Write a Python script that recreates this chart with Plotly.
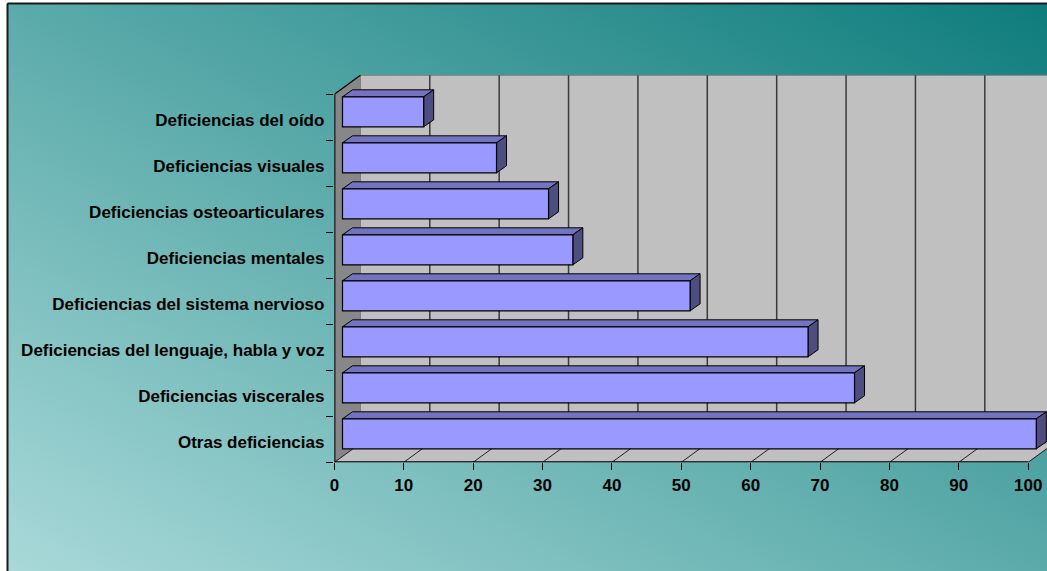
import base64
import plotly.graph_objects as go

# ---- data (bottom to top, as plotted) ----
categories = [
    "Otras deficiencias",
    "Deficiencias viscerales",
    "Deficiencias del lenguaje, habla y voz",
    "Deficiencias del sistema nervioso",
    "Deficiencias mentales",
    "Deficiencias osteoarticulares",
    "Deficiencias visuales",
    "Deficiencias del oído",
]
values = [100, 73.8, 67.1, 50.1, 33.2, 29.7, 22.2, 11.7]
x_ticks = [0, 10, 20, 30, 40, 50, 60, 70, 80, 90, 100]

# ---- geometry (pixels -> axis units) ----
W, H = 1047, 571
X0, Y0 = 334.4, 462.3      # front-plane origin in px
PXU = 6.938                # px per x unit
PYU = 46.0                 # px per category
TOP_PX = 60

xr = [0, (W - X0) / PXU]
yr = [-0.5, -0.5 + (Y0 - TOP_PX) / PYU]

DX, DY = 26 / PXU, 19 / PYU        # full 3D depth
SX, SY = 8.1 / PXU, 5.5 / PYU      # depth shift of bar front face
BDX, BDY = 10 / PXU, 7 / PYU       # bar depth
BW = 30 / PYU                      # bar thickness

n = len(categories)
top, bot = n - 0.5, -0.5
xmax = x_ticks[-1]

FRONT = "#9999FF"
TOPC = "#7373BF"
SIDE = "#4D4D80"


def poly(pts, fill, line_color=None, lw=1.0):
    path = "M " + " L ".join(f"{x:.5f},{y:.5f}" for x, y in pts) + " Z"
    line = dict(color=line_color, width=lw) if line_color else dict(width=0)
    return dict(type="path", path=path, xref="x", yref="y",
                fillcolor=fill, line=line, layer="below")


def seg(x0, y0, x1, y1, color, lw):
    return dict(type="line", x0=x0, y0=y0, x1=x1, y1=y1, xref="x", yref="y",
                line=dict(color=color, width=lw), layer="below")


shapes = []
# walls and floor
shapes.append(poly([(DX, bot + DY), (xmax + DX, bot + DY), (xmax + DX, top + DY), (DX, top + DY)],
                   "#C0C0C0", "#808080", 1))
shapes.append(poly([(0, bot), (DX, bot + DY), (DX, top + DY), (0, top)], "#878787", "#808080", 1))
shapes.append(poly([(0, bot), (xmax, bot), (xmax + DX, bot + DY), (DX, bot + DY)],
                   "#C0C0C0", "#808080", 1))
# gridlines on back wall
for v in x_ticks[1:]:
    shapes.append(seg(v + DX, bot + DY, v + DX, top + DY, "#3A3A3A", 1.5))
# gridlines on floor
for v in x_ticks:
    shapes.append(seg(v, bot, v + DX, bot + DY, "#222222", 1))
# front edges (axis lines)
shapes.append(seg(0, bot, 0, top, "black", 2))
shapes.append(seg(0, top, DX, top + DY, "black", 1.2))
shapes.append(seg(0, bot, xmax, bot, "black", 2))

# 3D faces of the bars
for k, v in enumerate(values):
    yc = k + SY
    yt, yb = yc + BW / 2, yc - BW / 2
    x0, x1 = SX, SX + v
    shapes.append(poly([(x0, yt), (x1, yt), (x1 + BDX, yt + BDY), (x0 + BDX, yt + BDY)],
                       TOPC, "black", 1))
    shapes.append(poly([(x1, yb), (x1, yt), (x1 + BDX, yt + BDY), (x1 + BDX, yb + BDY)],
                       SIDE, "black", 1))

# outer frame of the chart area
shapes.append(dict(type="line", xref="paper", yref="paper", x0=7.5 / W, x1=7.5 / W,
                   y0=0, y1=1 - 3.5 / H, line=dict(color="#1A1A1A", width=2), layer="above"))
shapes.append(dict(type="line", xref="paper", yref="paper", x0=7.5 / W, x1=1,
                   y0=1 - 3.5 / H, y1=1 - 3.5 / H, line=dict(color="#1A1A1A", width=2), layer="above"))

# gradient background as an SVG image
svg = ('<svg xmlns="http://www.w3.org/2000/svg" width="1040" height="568" viewBox="0 0 1040 568" '
       'preserveAspectRatio="none"><defs><linearGradient id="g" x1="1" y1="0" x2="0" y2="1">'
       '<stop offset="0" stop-color="#0E7C7C"/><stop offset="1" stop-color="#A9D9D9"/>'
       '</linearGradient></defs><rect width="1040" height="568" fill="url(#g)"/></svg>')
src = "data:image/svg+xml;base64," + base64.b64encode(svg.encode()).decode()

tickfont = dict(family="Liberation Sans, Arial, sans-serif", size=17, color="black", weight="bold")

fig = go.Figure()
fig.add_trace(go.Bar(
    x=values, y=categories, orientation="h",
    base=SX, width=BW, offset=SY - BW / 2,
    marker=dict(color=FRONT, line=dict(color="black", width=1.2)),
    showlegend=False,
))

fig.update_layout(
    template="none",
    width=W, height=H,
    margin=dict(l=0, r=0, t=0, b=0),
    paper_bgcolor="white",
    plot_bgcolor="rgba(0,0,0,0)",
    showlegend=False,
    shapes=shapes,
    images=[dict(source=src, xref="paper", yref="paper", x=7 / W, y=1 - 3 / H,
                 sizex=1 - 7 / W, sizey=1 - 3 / H, xanchor="left", yanchor="top",
                 sizing="stretch", layer="below")],
    xaxis=dict(domain=[X0 / W, 1], range=xr, tickvals=x_ticks, ticks="outside",
               ticklen=7, tickcolor="black", tickwidth=1, showgrid=False,
               zeroline=False, showline=False, tickfont=tickfont, fixedrange=True),
    yaxis=dict(domain=[(H - Y0) / H, (H - TOP_PX) / H], type="category",
               categoryorder="array", categoryarray=categories, range=yr,
               tickson="boundaries", ticks="outside", ticklen=7, tickcolor="black",
               tickwidth=1, showgrid=False, zeroline=False, showline=False,
               tickfont=tickfont, ticklabelstandoff=9, ticklabelshift=3,
               fixedrange=True),
)

fig.write_html(
    "out.html",
    config={"displayModeBar": False},
    post_script="document.body.style.margin='0';document.body.style.overflow='hidden';",
)
